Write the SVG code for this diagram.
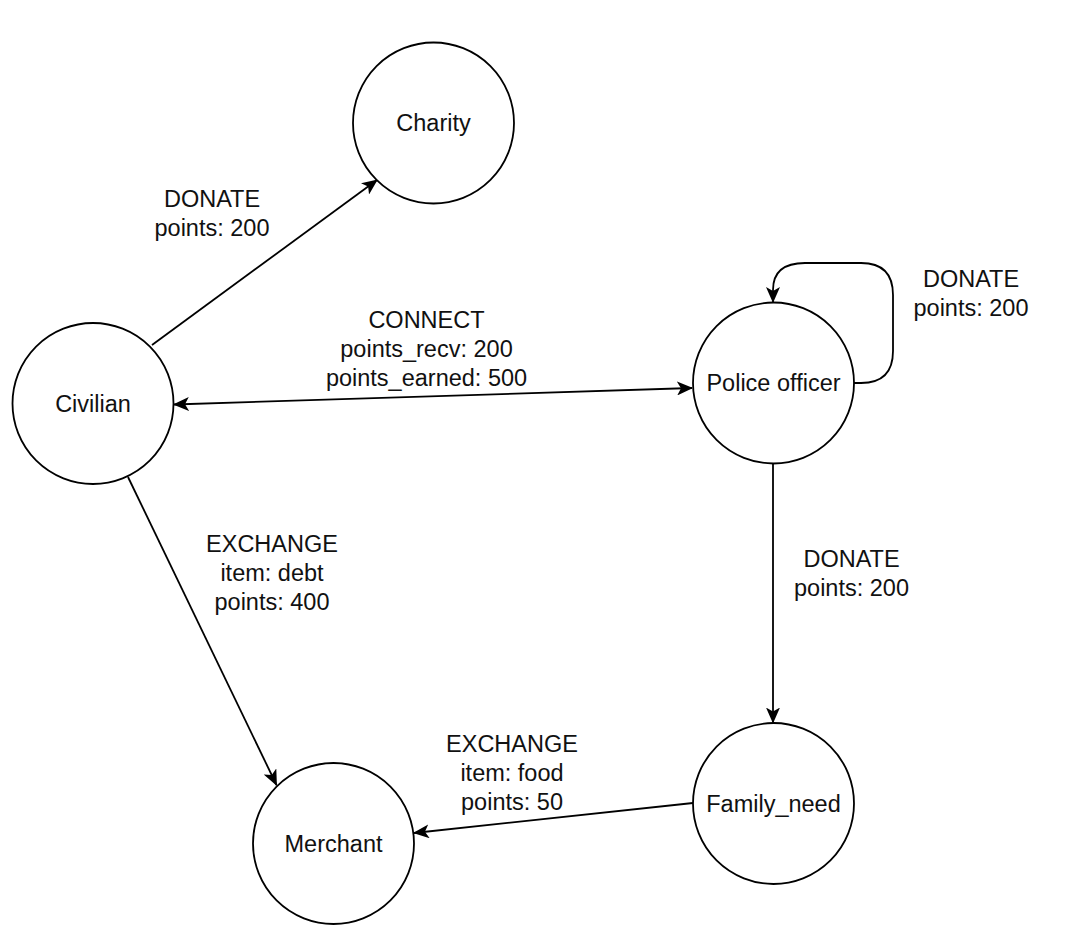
<svg xmlns="http://www.w3.org/2000/svg" width="1076" height="948" viewBox="0 0 1076 948">
<style>
.node circle{fill:#ffffff;stroke:#000000;stroke-width:1.8}
text{font-family:"Liberation Sans",Arial,Helvetica,sans-serif;font-size:23.5px;fill:#111111;text-anchor:middle}
.edge{fill:none;stroke:#000000;stroke-width:1.8}
</style>
<defs>
<marker id="arrow" viewBox="0 0 16 14" markerWidth="16" markerHeight="14" refX="15" refY="7" orient="auto-start-reverse" markerUnits="userSpaceOnUse">
<path d="M0,0 L16,7 L0,14 L4,7 Z" fill="#000000"/>
</marker>
</defs>
<rect width="1076" height="948" fill="#ffffff"/>
<g id="connectors">
<path class="edge" d="M152,345 L377,180" marker-end="url(#arrow)"/>
<path class="edge" d="M174,404.5 L692,388" marker-start="url(#arrow)" marker-end="url(#arrow)"/>
<path class="edge" d="M854,383 L861,383 Q893,383 893,351 L893,295 Q893,263 861,263 L805,263 Q773,263 773,290 L773,302" marker-end="url(#arrow)"/>
<path class="edge" d="M773,463.5 L773,722.5" marker-end="url(#arrow)"/>
<path class="edge" d="M128,477 L276.5,785" marker-end="url(#arrow)"/>
<path class="edge" d="M693,803 L414,833" marker-end="url(#arrow)"/>
<g id="edge-labels">
<text x="212" y="207">DONATE</text>
<text x="212" y="236">points: 200</text>
<text x="426.5" y="327.5">CONNECT</text>
<text x="426.5" y="356.5">points_recv: 200</text>
<text x="426.5" y="385.5">points_earned: 500</text>
<text x="971" y="287">DONATE</text>
<text x="971" y="316">points: 200</text>
<text x="851.5" y="567">DONATE</text>
<text x="851.5" y="596">points: 200</text>
<text x="272" y="552">EXCHANGE</text>
<text x="272" y="581">item: debt</text>
<text x="272" y="610">points: 400</text>
<text x="512" y="752">EXCHANGE</text>
<text x="512" y="781">item: food</text>
<text x="512" y="810">points: 50</text>
</g>
</g>
<g id="node-charity" class="node">
<circle cx="433.5" cy="123" r="80.5"/>
<text x="433.5" y="131">Charity</text>
</g>
<g id="node-civilian" class="node">
<circle cx="93" cy="403.5" r="80.5"/>
<text x="93" y="411.5">Civilian</text>
</g>
<g id="node-police" class="node">
<circle cx="773.5" cy="383" r="80.5"/>
<text x="773.5" y="391">Police officer</text>
</g>
<g id="node-family" class="node">
<circle cx="773.5" cy="803.5" r="80.5"/>
<text x="773.5" y="811.5">Family_need</text>
</g>
<g id="node-merchant" class="node">
<circle cx="333.5" cy="843.5" r="80.5"/>
<text x="333.5" y="851.5">Merchant</text>
</g>
</svg>
